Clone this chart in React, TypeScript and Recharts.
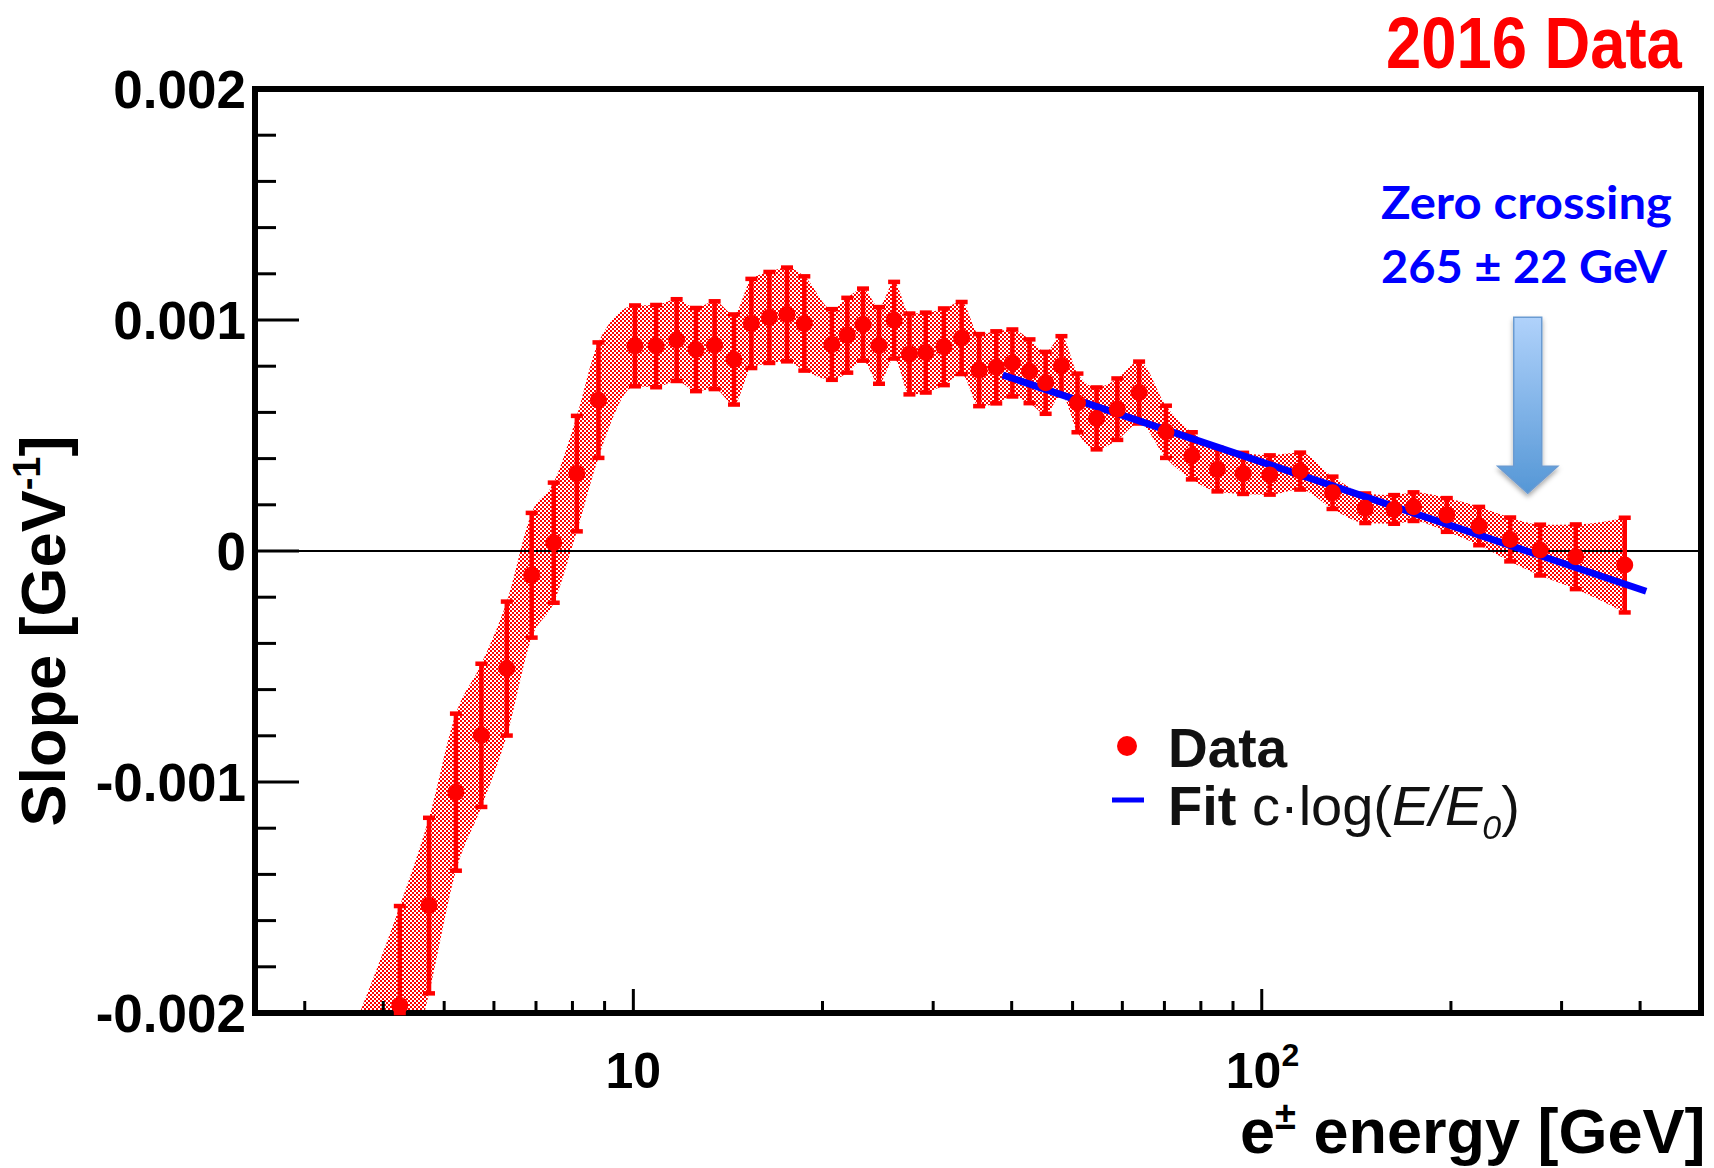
import React from 'react';
import {
  ComposedChart,
  Scatter,
  Line,
  Area,
  XAxis,
  YAxis,
  ReferenceLine,
  ReferenceArea,
  ReferenceDot,
  ErrorBar,
  Legend,
} from 'recharts';

// Bin centres of the e± energy [GeV]
const energy = [
  4.25, 4.73, 5.22, 5.73, 6.29, 6.89, 7.47, 8.13, 8.8, 10.06, 10.87, 11.72, 12.58, 13.47,
  14.46, 15.41, 16.46, 17.56, 18.71, 20.7, 21.9, 23.2, 24.6, 26.0, 27.5, 29.2, 31.2, 33.3,
  35.5, 37.8, 40.1, 42.7, 45.3, 48.0, 50.9, 54.6, 58.9, 63.8, 70.4, 77.4, 85.0, 93.4, 103.0,
  115.1, 129.6, 146.1, 162.4, 174.4, 197.0, 221.8, 248.5, 277.3, 316.0, 378.1,
];

// Measured slope per bin [GeV^-1]
const slope = [
  -0.001967, -0.001535, -0.001044, -0.000798, -0.000509, -0.000105, 0.000036, 0.000335,
  0.000653, 0.000888, 0.000887, 0.000913, 0.000872, 0.000891, 0.000829, 0.000985, 0.001011,
  0.001024, 0.000985, 0.000894, 0.000934, 0.00098, 0.00089, 0.000999, 0.000853, 0.000859,
  0.000884, 0.000922, 0.000783, 0.000795, 0.000814, 0.000778, 0.000728, 0.000802, 0.000641,
  0.000574, 0.000614, 0.000686, 0.000516, 0.000412, 0.000353, 0.000336, 0.000329, 0.000346,
  0.000252, 0.000185, 0.00018, 0.000192, 0.000156, 0.000108, 0.00005, 0.000004, -0.000025,
  -0.000061,
];

// Symmetric uncertainty per bin [GeV^-1]
const slopeErr = [
  0.00043, 0.00038, 0.00034, 0.00031, 0.00029, 0.00027, 0.00026, 0.00025, 0.00025, 0.000175,
  0.000178, 0.000177, 0.00018, 0.00019, 0.000195, 0.000193, 0.000197, 0.000203, 0.000204,
  0.000153, 0.000162, 0.000156, 0.000166, 0.000166, 0.000175, 0.000173, 0.000166, 0.000156,
  0.000156, 0.000156, 0.000145, 0.000138, 0.000134, 0.000128, 0.000127, 0.000134, 0.000133,
  0.000134, 0.000113, 0.000102, 0.000095, 0.000089, 0.000085, 0.00008, 0.00007, 0.000064,
  0.000062, 0.000062, 0.000073, 0.000083, 0.000095, 0.00011, 0.00014, 0.000205,
];

// The shaded band starts a little below the first bin
const bandStartEnergy = 3.67;
const bandStartRange = [-0.0026, -0.002];

// c·log(E/E0) fit, drawn between its two end points
const fitEnergy = [38.7, 409];
const fitSlope = [0.000762, -0.000174];

// Zero crossing of the fit
const zeroCrossing = 265;
const zeroCrossingErr = 22;
const arrowTipSlope = 0.00025;

const X_DOMAIN = [2.5, 500];
const Y_DOMAIN = [-0.002, 0.002];

const xMajorTicks = [10, 100];
const xMinorTicks = [3, 4, 5, 6, 7, 8, 9, 20, 30, 40, 50, 60, 70, 80, 90, 200, 300, 400];
const yMajorTicks = [-0.002, -0.001, 0, 0.001, 0.002];
const yMajorLabels = ['-0.002', '-0.001', '0', '0.001', '0.002'];
const yMinorTicks = [
  -0.0018, -0.0016, -0.0014, -0.0012, -0.0008, -0.0006, -0.0004, -0.0002, 0.0002, 0.0004,
  0.0006, 0.0008, 0.0012, 0.0014, 0.0016, 0.0018,
];

const FONT = "'Liberation Sans', Arial, Helvetica, sans-serif";
const RED = '#ff0000';
const BLUE = '#0000ff';

// error bars are cut at the lower edge of the frame
const points = energy.map((e, i) => ({
  e,
  slope: slope[i],
  err: [Math.min(slopeErr[i], slope[i] - Y_DOMAIN[0]), slopeErr[i]],
}));
const bandData = [
  { e: bandStartEnergy, band: bandStartRange },
  ...energy.map((e, i) => ({ e, band: [slope[i] - slopeErr[i], slope[i] + slopeErr[i]] })),
];
const fitData = fitEnergy.map((e, i) => ({ e, fit: fitSlope[i] }));

const near = (a: number, b: number) => Math.abs(a - b) < 1e-9;

const YTick = (props: any) => {
  const { x, y, payload } = props;
  const idx = yMajorTicks.findIndex((t) => near(t, payload.value));
  const major = idx >= 0;
  return (
    <g>
      <line x1={x} x2={x + (major ? 44 : 21)} y1={y} y2={y} stroke="#000" strokeWidth={3} />
      {major && (
        <text x={x - 9} y={y} dy="0.36em" textAnchor="end" fontFamily={FONT} fontWeight={700} fontSize={53} fill="#000">
          {yMajorLabels[idx]}
        </text>
      )}
    </g>
  );
};

const XTick = (props: any) => {
  const { x, y, payload } = props;
  const v = payload.value;
  const major = xMajorTicks.some((t) => near(t, v));
  return (
    <g>
      <line x1={x} x2={x} y1={y} y2={y - (major ? 24 : 12)} stroke="#000" strokeWidth={3} />
      {near(v, 10) && (
        <text x={x} y={y + 75} textAnchor="middle" fontFamily={FONT} fontWeight={700} fontSize={50} fill="#000">
          10
        </text>
      )}
      {near(v, 100) && (
        <text x={x - 36} y={y + 75} fontFamily={FONT} fontWeight={700} fontSize={50} fill="#000">
          10
          <tspan fontSize={32} dy={-22}>2</tspan>
        </text>
      )}
    </g>
  );
};

const Dot = (props: any) => {
  const { cx, cy } = props;
  if (cx == null || cy == null) return null;
  return <circle cx={cx} cy={cy} r={8.5} fill={RED} />;
};

const ZeroArrow = (props: any) => {
  const { cx, cy } = props;
  if (cx == null || cy == null) return null;
  const d = [
    `M${cx - 14},${cy - 176}`,
    `L${cx + 14},${cy - 176}`,
    `L${cx + 14},${cy - 27}`,
    `L${cx + 30},${cy - 27}`,
    `L${cx},${cy}`,
    `L${cx - 30},${cy - 27}`,
    `L${cx - 14},${cy - 27}`,
    'Z',
  ].join(' ');
  return <path d={d} fill="url(#arrowFill)" stroke="#6b9bd2" strokeWidth={1.5} filter="url(#arrowShadow)" />;
};

const FitLegend = () => (
  <svg width={460} height={140} style={{ filter: 'blur(0.5px)' }}>
    <circle cx={33} cy={31} r={10} fill={RED} />
    <text x={74} y={52} fontFamily={FONT} fontWeight={700} fontSize={55} fill="#111">
      Data
    </text>
    <line x1={18} x2={50} y1={85} y2={85} stroke={BLUE} strokeWidth={5} />
    <text x={74} y={110} fontFamily={FONT} fontSize={56} fill="#111">
      <tspan fontWeight={700}>Fit</tspan>
      <tspan> c·log(</tspan>
      <tspan fontStyle="italic">E/E</tspan>
      <tspan fontStyle="italic" fontSize={34} dy={14}>0</tspan>
      <tspan dy={-14}>)</tspan>
    </text>
  </svg>
);

const App: React.FC = () => (
  <div style={{ position: 'absolute', left: 0, top: 0, width: 1714, height: 1168, background: '#fff' }}>
    <svg width={0} height={0} style={{ position: 'absolute' }}>
      <defs>
        <pattern id="stipple" width={4} height={4} patternUnits="userSpaceOnUse">
          <rect x={0} y={0} width={2} height={2} fill={RED} />
          <rect x={2} y={2} width={2} height={2} fill={RED} />
        </pattern>
        <linearGradient id="arrowFill" x1="0" y1="0" x2="0" y2="1">
          <stop offset="0%" stopColor="#b0d2fb" />
          <stop offset="100%" stopColor="#5597d6" />
        </linearGradient>
        <filter id="arrowShadow" x="-50%" y="-20%" width="200%" height="150%">
          <feDropShadow dx={0} dy={3} stdDeviation={2.5} floodColor="#000" floodOpacity={0.35} />
        </filter>
      </defs>
    </svg>

    <ComposedChart width={1714} height={1168} margin={{ top: 89, right: 13, bottom: 95, left: 155 }}>
      <XAxis
        dataKey="e"
        type="number"
        scale="log"
        domain={X_DOMAIN}
        allowDataOverflow
        ticks={[...xMinorTicks, ...xMajorTicks].sort((a, b) => a - b)}
        interval={0}
        tick={<XTick />}
        tickLine={false}
        axisLine={false}
        tickSize={0}
        tickMargin={0}
        height={60}
      />
      <YAxis
        type="number"
        domain={Y_DOMAIN}
        allowDataOverflow
        ticks={[...yMinorTicks, ...yMajorTicks].sort((a, b) => a - b)}
        interval={0}
        tick={<YTick />}
        tickLine={false}
        axisLine={false}
        tickSize={0}
        tickMargin={0}
        width={100}
      />
      <Area
        data={bandData}
        dataKey="band"
        type="monotone"
        fill="url(#stipple)"
        fillOpacity={1}
        stroke="none"
        isAnimationActive={false}
        legendType="none"
      />
      <ReferenceLine y={0} stroke="#000" strokeWidth={2} />
      <Scatter data={points} dataKey="slope" name="Data" shape={<Dot />} isAnimationActive={false}>
        <ErrorBar dataKey="err" direction="y" width={6} strokeWidth={4.5} stroke={RED} />
      </Scatter>
      <Line
        data={fitData}
        dataKey="fit"
        name="Fit"
        type="linear"
        stroke={BLUE}
        strokeWidth={7}
        dot={false}
        isAnimationActive={false}
      />
      <ReferenceDot x={zeroCrossing} y={arrowTipSlope} shape={<ZeroArrow />} />
      <ReferenceArea x1={X_DOMAIN[0]} x2={X_DOMAIN[1]} y1={Y_DOMAIN[0]} y2={Y_DOMAIN[1]} fill="none" stroke="#000" strokeWidth={6} />
      <Legend
        layout="horizontal"
        verticalAlign="middle"
        align="center"
        content={<FitLegend />}
        wrapperStyle={{ left: 1094, top: 715, width: 460, height: 140 }}
      />
    </ComposedChart>

    <svg width={1714} height={1168} style={{ position: 'absolute', left: 0, top: 0, pointerEvents: 'none' }}>
      {/* condensed bold title */}
      <text transform="translate(1386,68) scale(0.88,1)" fill={RED} fontFamily={FONT} fontWeight={700} fontSize={72}>
        2016 Data
      </text>
      <text x={1381} y={219} fill={BLUE} fontFamily="Lato, 'Open Sans', sans-serif" fontWeight={700} fontSize={46} textLength={291} lengthAdjust="spacingAndGlyphs">
        Zero crossing
      </text>
      <text x={1381} y={283} fill={BLUE} fontFamily="Lato, 'Open Sans', sans-serif" fontWeight={700} fontSize={46} textLength={286} lengthAdjust="spacingAndGlyphs">
        {`${zeroCrossing} ± ${zeroCrossingErr} GeV`}
      </text>
      <text x={1240} y={1153} fontFamily={FONT} fontWeight={700} fontSize={63} fill="#000">
        e<tspan fontSize={38} dy={-24}>±</tspan>
        <tspan dy={24}> energy [GeV]</tspan>
      </text>
      <text transform="translate(65,631) rotate(-90)" textAnchor="middle" fontFamily={FONT} fontWeight={700} fontSize={63} fill="#000">
        Slope [GeV<tspan fontSize={38} dy={-25}>-1</tspan>
        <tspan dy={25}>]</tspan>
      </text>
    </svg>
  </div>
);

export default App;
